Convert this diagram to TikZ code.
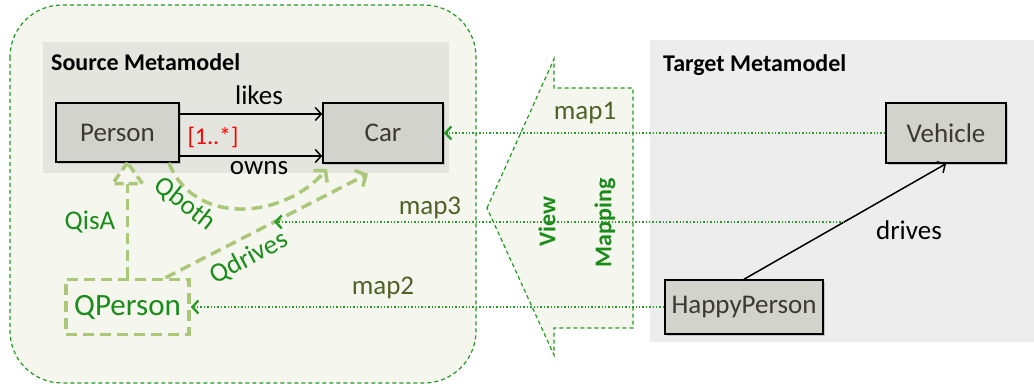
\documentclass[tikz,border=0pt]{standalone}
\usepackage{fontspec}
\setmainfont{Carlito}
\usetikzlibrary{arrows.meta,shadows}

\definecolor{viewbg}{HTML}{F5F6EE}
\definecolor{viewline}{HTML}{229A22}
\definecolor{srcgray}{HTML}{E5E5DF}
\definecolor{tgtgray}{HTML}{EDEDED}
\definecolor{classgray}{HTML}{D3D3CE}
\definecolor{classtext}{HTML}{3A3A32}
\definecolor{qlight}{HTML}{ABC77A}
\definecolor{qtext}{HTML}{1A8C1A}
\definecolor{maptext}{HTML}{4F6228}
\definecolor{dotgreen}{HTML}{2A9A2A}

\tikzset{
  classbox/.style={draw=black, line width=1.5pt, fill=classgray, text=classtext,
    font=\fontsize{27}{30}\selectfont, inner sep=2pt,
    drop shadow={shadow xshift=2pt, shadow yshift=-2pt, opacity=0.35}},
  qbox/.style={draw=qlight, line width=3.5pt, dash pattern=on 11pt off 6pt,
    text=qtext, font=\fontsize{31}{34}\selectfont, inner sep=2pt},
  qline/.style={draw=qlight, line width=3.5pt, dash pattern=on 11pt off 6pt},
  qtri/.style={draw=qlight, fill=viewbg, line width=3.5pt, dash pattern=on 9pt off 5pt,
    line join=miter},
  qhead/.style={-{Straight Barb[length=8pt, width=18pt]}},
  assoc/.style={draw=black, line width=1.5pt, -{Straight Barb[length=6pt, width=13pt]}},
  maplink/.style={draw=dotgreen, line width=1.4pt, dotted,
    -{Straight Barb[length=6pt, width=13pt, line width=2.4pt]}},
  lbl/.style={font=\fontsize{27}{30}\selectfont, inner sep=0pt},
  qlbl/.style={lbl, text=qtext},
  maplbl/.style={lbl, text=maptext},
  title/.style={font=\bfseries\fontsize{24}{28}\selectfont, inner sep=0pt, anchor=west},
  viewtxt/.style={font=\bfseries\fontsize{24}{28}\selectfont, text=qtext, inner sep=0pt, rotate=90}
}

\begin{document}
\begin{tikzpicture}[x=1pt, y=-1pt]
\useasboundingbox (0,0) rectangle (1034,387);

% view region and the two metamodel panels
\draw[fill=viewbg, draw=viewline, line width=1.2pt, dash pattern=on 4pt off 3pt,
  rounded corners=52pt] (10,5) rectangle (476,383);
\fill[srcgray] (43,42) rectangle (449,173);
\fill[tgtgray] (650,40) rectangle (1034,342);

% the view-mapping block arrow
\draw[fill=viewbg, draw=viewline, line width=1.2pt, dash pattern=on 4pt off 3pt]
  (487,208) -- (554,59) -- (554,88) -- (633,88) -- (633,328)
  -- (554,328) -- (554,355) -- cycle;

\node[title] (srctitle) at (51,62) {Source Metamodel};
\node[title] (tgttitle) at (663,65) {Target Metamodel};

\node[viewtxt] (view) at (547,222) {View};
\node[viewtxt] (mapping) at (605,223) {Mapping};

% classes
\node[classbox, minimum width=123pt, minimum height=59pt] (person) at (117.5,132.5) {Person};
\node[classbox, minimum width=120pt, minimum height=60pt] (car) at (383,133) {Car};
\node[classbox, minimum width=120pt, minimum height=60pt] (vehicle) at (946,133) {Vehicle};
\node[classbox, minimum width=158pt, minimum height=54pt] (happy) at (744,307) {HappyPerson};
\node[qbox, minimum width=123pt, minimum height=55pt] (qp) at (127.5,307) {QPerson};

% source associations
\draw[assoc] (person.east |- 0,114) -- (car.west |- 0,114);
\draw[assoc] (person.east |- 0,156) -- (car.west |- 0,156);
\node[lbl] (likes) at (259,95) {likes};
\node[lbl] (owns) at (259,168) {owns};
\node[lbl, text=red, font=\fontsize{24}{27}\selectfont] (mult) at (213,137) {[1..*]};

% target association
\draw[assoc] (happy.north) -- (vehicle.south) coordinate[pos=0.496] (d3);
\node[lbl] (drives) at (909,230) {drives};

% QisA: dashed generalisation with a dashed open triangle at Person
\coordinate (isatip) at (qp.north |- person.south);
\coordinate (isabase) at ([yshift=-21pt]isatip);
\draw[qline] (qp.north) -- (isabase);
\draw[qtri] (isatip) -- ([xshift=-15pt]isabase) -- ([xshift=15pt]isabase) -- cycle;
\node[qlbl] (qisa) at (90,222) {QisA};

\draw[qline, qhead] ([xshift=-11pt]person.south east)
  .. controls (195,228) and (285,218) .. ([xshift=-56pt, yshift=-5pt]car.south);
\node[qlbl, rotate=-38] (qboth) at (185,204) {Qboth};

\draw[qline, qhead] ([xshift=38pt]qp.north)
  -- ([xshift=-15pt, yshift=-10pt]car.south) coordinate[pos=0.536] (q3);
\node[qlbl, rotate=28] (qdrives) at (249,258) {Qdrives};

% mapping links
\draw[maplink] (vehicle.west) -- (car.east);
\draw[maplink] (d3) -- (q3 |- d3);
\draw[maplink] (happy.west) -- (qp.east);
\node[maplbl] (map1) at (585,113) {map1};
\node[maplbl] (map3) at (430,208) {map3};
\node[maplbl] (map2) at (383,288) {map2};
\end{tikzpicture}
\end{document}
